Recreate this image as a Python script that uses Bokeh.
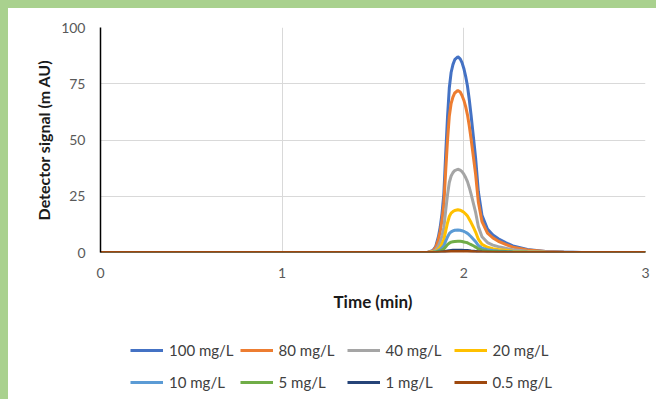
from bokeh.plotting import figure
from bokeh.models import Legend, LegendItem, FixedTicker, Range1d, Spacer
from bokeh.layouts import column, row
from bokeh.embed import file_html
from bokeh.resources import INLINE

# ---- data ----
time_min = [0, 1.80, 1.83, 1.845, 1.86,
            1.87, 1.88, 1.89, 1.90, 1.91,
            1.92, 1.93, 1.94, 1.95, 1.967,
            1.98, 1.99, 2.00, 2.01, 2.02,
            2.03, 2.04, 2.055, 2.065, 2.08,
            2.10, 2.13, 2.16, 2.19, 2.23,
            2.27, 2.35, 2.45, 2.55, 2.65,
            3.0]

s100 = [0, 0, 0.9, 2.6, 7.0, 11.3, 17.4, 26.1, 43.5, 60.0,
        73.1, 80.0, 83.5, 85.7, 87.0, 86.1, 84.4, 81.8, 78.3, 74.0,
        67.9, 60.9, 49.6, 41.8, 27.0, 16.5, 10.4, 7.8, 6.1, 4.4,
        2.9, 1.3, 0.5, 0.2, 0, 0]
s80 = [0, 0, 0.7, 2.2, 5.8, 9.4, 14.4, 21.6, 36.0, 49.7,
       60.5, 66.2, 69.1, 70.9, 72.0, 71.3, 69.8, 67.7, 64.8, 61.2,
       56.2, 50.4, 41.0, 34.6, 22.3, 13.7, 8.6, 6.5, 5.0, 3.6,
       2.4, 1.1, 0.4, 0.1, 0, 0]
s40 = [0, 0, 0.4, 1.1, 3.0, 4.8, 7.4, 11.1, 18.5, 25.5,
       31.1, 34.0, 35.5, 36.4, 37.0, 36.6, 35.9, 34.8, 33.3, 31.5,
       28.9, 25.9, 21.1, 17.8, 11.5, 7.0, 4.4, 3.3, 2.6, 1.9,
       1.2, 0.6, 0.2, 0.1, 0, 0]
s20 = [0, 0, 0.2, 0.6, 1.5, 2.5, 3.8, 5.7, 9.5, 13.1,
       16.0, 17.5, 18.2, 18.7, 19.0, 18.8, 18.4, 17.9, 17.1, 16.2,
       14.8, 13.3, 10.8, 9.1, 5.9, 3.6, 2.3, 1.7, 1.3, 1.0,
       0.6, 0.3, 0.1, 0, 0, 0]
s10 = [0, 0, 0.1, 0.3, 0.8, 1.3, 2.0, 3.0, 5.0, 6.9,
       8.4, 9.2, 9.6, 9.9, 10.0, 9.9, 9.7, 9.4, 9.0, 8.5,
       7.8, 7.0, 5.7, 4.8, 3.1, 1.9, 1.2, 0.9, 0.7, 0.5,
       0.3, 0.2, 0.1, 0, 0, 0]
s5 = [0, 0, 0.1, 0.2, 0.4, 0.7, 1.0, 1.5, 2.5, 3.5,
      4.2, 4.6, 4.8, 4.9, 5.0, 5.0, 4.9, 4.7, 4.5, 4.3,
      3.9, 3.5, 2.9, 2.4, 1.6, 1.0, 0.6, 0.5, 0.4, 0.3,
      0.2, 0.1, 0, 0, 0, 0]
s1 = [0, 0, 0, 0, 0.1, 0.1, 0.2, 0.3, 0.5, 0.7,
      0.8, 0.9, 1.0, 1.0, 1.0, 1.0, 1.0, 0.9, 0.9, 0.9,
      0.8, 0.7, 0.6, 0.5, 0.3, 0.2, 0.1, 0.1, 0.1, 0.1,
      0, 0, 0, 0, 0, 0]
s05 = [0, 0, 0, 0, 0, 0.1, 0.1, 0.2, 0.3, 0.3,
       0.4, 0.5, 0.5, 0.5, 0.5, 0.5, 0.5, 0.5, 0.5, 0.4,
       0.4, 0.4, 0.3, 0.2, 0.2, 0.1, 0.1, 0, 0, 0,
       0, 0, 0, 0, 0, 0]

series_labels = ["100 mg/L", "80 mg/L", "40 mg/L", "20 mg/L",
                 "10 mg/L", "5 mg/L", "1 mg/L", "0.5 mg/L"]
series_values = [s100, s80, s40, s20, s10, s5, s1, s05]
series_colors = ["#4472C4", "#ED7D31", "#A5A5A5", "#FFC000",
                 "#5B9BD5", "#70AD47", "#264478", "#9E480E"]

x_ticks = [0, 1, 2, 3]
y_ticks = [0, 25, 50, 75, 100]

GREEN = "#A9D18E"

# ---- main figure ----
p = figure(width=648, height=312, output_backend="svg", toolbar_location=None,
           x_range=Range1d(0, 3), y_range=Range1d(0, 100),
           min_border_left=92, min_border_right=11, min_border_top=19, min_border_bottom=68)
p.outline_line_color = None
p.background_fill_color = "white"
p.border_fill_color = "white"

for vals, col in zip(series_values, series_colors):
    p.line(time_min, vals, line_color=col, line_width=3)

p.xaxis.ticker = FixedTicker(ticks=x_ticks)
p.yaxis.ticker = FixedTicker(ticks=y_ticks)
for ax in (p.xaxis[0], p.yaxis[0]):
    ax.major_tick_line_color = None
    ax.minor_tick_line_color = None
    ax.major_tick_out = 0
    ax.major_tick_in = 0
    ax.major_label_text_font = "Lato"
    ax.major_label_text_font_size = "14px"
    ax.major_label_text_color = "#595959"
    ax.axis_label_text_font = "Lato"
    ax.axis_label_text_font_style = "bold"
    ax.axis_label_text_color = "#1a1a1a"

p.xaxis.axis_label_text_font_size = "17px"
p.yaxis.axis_label_text_font_size = "16px"
p.xaxis.axis_label = "Time (min)"
p.yaxis.axis_label = "Detector signal (m AU)"
p.xaxis.axis_line_color = None
p.yaxis.axis_line_color = "black"
p.yaxis.axis_line_width = 1.5
p.xaxis.major_label_standoff = 15
p.xaxis.axis_label_standoff = 10
p.yaxis.major_label_standoff = 15
p.yaxis.axis_label_standoff = 5

p.xgrid.grid_line_color = "#D9D9D9"
p.ygrid.grid_line_color = "#D9D9D9"
p.xgrid.grid_line_width = 1
p.ygrid.grid_line_width = 1

# ---- legend figure (series lines kept outside its view; only the legend shows) ----
pl = figure(width=648, height=79, output_backend="svg", toolbar_location=None,
            x_axis_type=None, y_axis_type=None,
            x_range=Range1d(0, 3), y_range=Range1d(1000, 1001),
            min_border_left=0, min_border_right=0, min_border_top=0, min_border_bottom=0)
pl.outline_line_color = None
pl.grid.visible = False
pl.background_fill_color = "white"
pl.border_fill_color = "white"

leg_renderers = [pl.line(time_min, vals, line_color=col, line_width=3)
                 for vals, col in zip(series_values, series_colors)]
items = [LegendItem(label=lab, renderers=[r]) for lab, r in zip(series_labels, leg_renderers)]
lg = Legend(items=items, location=(30, 4), orientation="horizontal", ncols=4,
            padding=0, margin=0, spacing=6, glyph_width=33, glyph_height=26,
            label_height=26, label_width=62, label_standoff=6,
            border_line_color=None, background_fill_alpha=0,
            label_text_font="Lato", label_text_font_size="15px",
            label_text_color="#404040")
pl.add_layout(lg, "center")

top_strip = Spacer(width=656, height=8, styles={"background-color": GREEN})
left_strip = Spacer(width=8, height=391, styles={"background-color": GREEN})
layout = column(top_strip, row(left_strip, column(p, pl, spacing=0), spacing=0), spacing=0)

open("out.html", "w").write(file_html(layout, INLINE))
